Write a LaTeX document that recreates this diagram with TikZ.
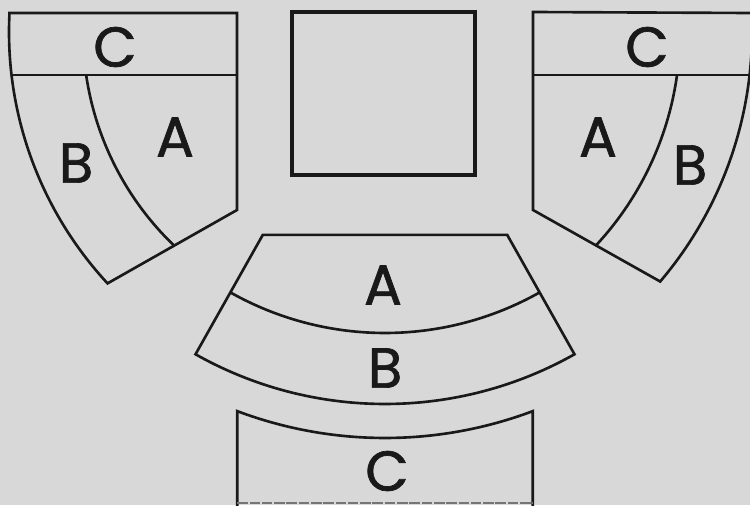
\documentclass[tikz,border=0pt]{standalone}
\usepackage{fontspec}
\newfontfamily\seatfont{Poppins}[FakeBold=1.2]
\usepackage{tikz}
\definecolor{paper}{RGB}{216,216,216}
\definecolor{ink}{RGB}{25,25,25}

\begin{document}
\begin{tikzpicture}[
  x=0.02cm, y=0.02cm,
  wall/.style={draw=ink, line width=1.5pt},
  seat/.style={font=\seatfont\fontsize{32}{32}\selectfont, text=ink, inner sep=0pt}
]
  % Paper
  \fill[paper] (0,0) rectangle (750,505);
  \useasboundingbox (0,0) rectangle (750,505);
  \clip (0,0) rectangle (750,505);

  % Centres of the arcs
  \coordinate (OL) at (379,473);
  \coordinate (OM) at (385,487);
  \coordinate (OR) at (367,473);

  % Stage
  \draw[wall, line width=1.9pt] (292,493) rectangle (475,330);

  % Left block
  \draw[wall] (237,492) -- ([shift={(OL)}]177.06:370) arc[start angle=177.06, end angle=222.8, radius=370] -- (237,295) -- cycle;
  \draw[wall] (11.5,430) -- (237,430);
  \draw[wall] ([shift={(OL)}]188.35:296) arc[start angle=188.35, end angle=226.1, radius=296];

  % Right block
  \draw[wall] (533,493) -- ([shift={(OR)}]2.83:385) arc[start angle=2.83, end angle=-40.4, radius=385] -- (533,295) -- cycle;
  \draw[wall] (533,430) -- (752,430);
  \draw[wall] ([shift={(OR)}]-7.9:313) arc[start angle=-7.9, end angle=-43.07, radius=313];

  % Middle block
  \draw[wall] ([shift={(OM)}]240.6:249) -- ([shift={(OM)}]299.4:249) -- ([shift={(OM)}]299.4:386) arc[start angle=299.4, end angle=240.6, radius=386] -- cycle;
  \draw[wall] ([shift={(OM)}]240.6:315) arc[start angle=240.6, end angle=299.4, radius=315];

  % Back block
  \draw[wall] (237.2,-5) -- ([shift={(OM)}]249.4:420) arc[start angle=249.4, end angle=290.6, radius=420] -- (532.8,-5);
  \draw[ink!60, line width=0.8pt, dash pattern=on 6pt off 1pt] (237.2,2) -- (532.8,2);

  % Seat labels
  \node[seat] (lc) at (115,458) {C};
  \node[seat] (la) at (175,368) {A};
  \node[seat] (lb) at (76,342) {B};
  \node[seat] (rc) at (647,458) {C};
  \node[seat] (ra) at (598,368) {A};
  \node[seat] (rb) at (690,340) {B};
  \node[seat] (ma) at (383,220) {A};
  \node[seat] (mb) at (385,137) {B};
  \node[seat] (bc) at (387,34) {C};
\end{tikzpicture}
\end{document}
